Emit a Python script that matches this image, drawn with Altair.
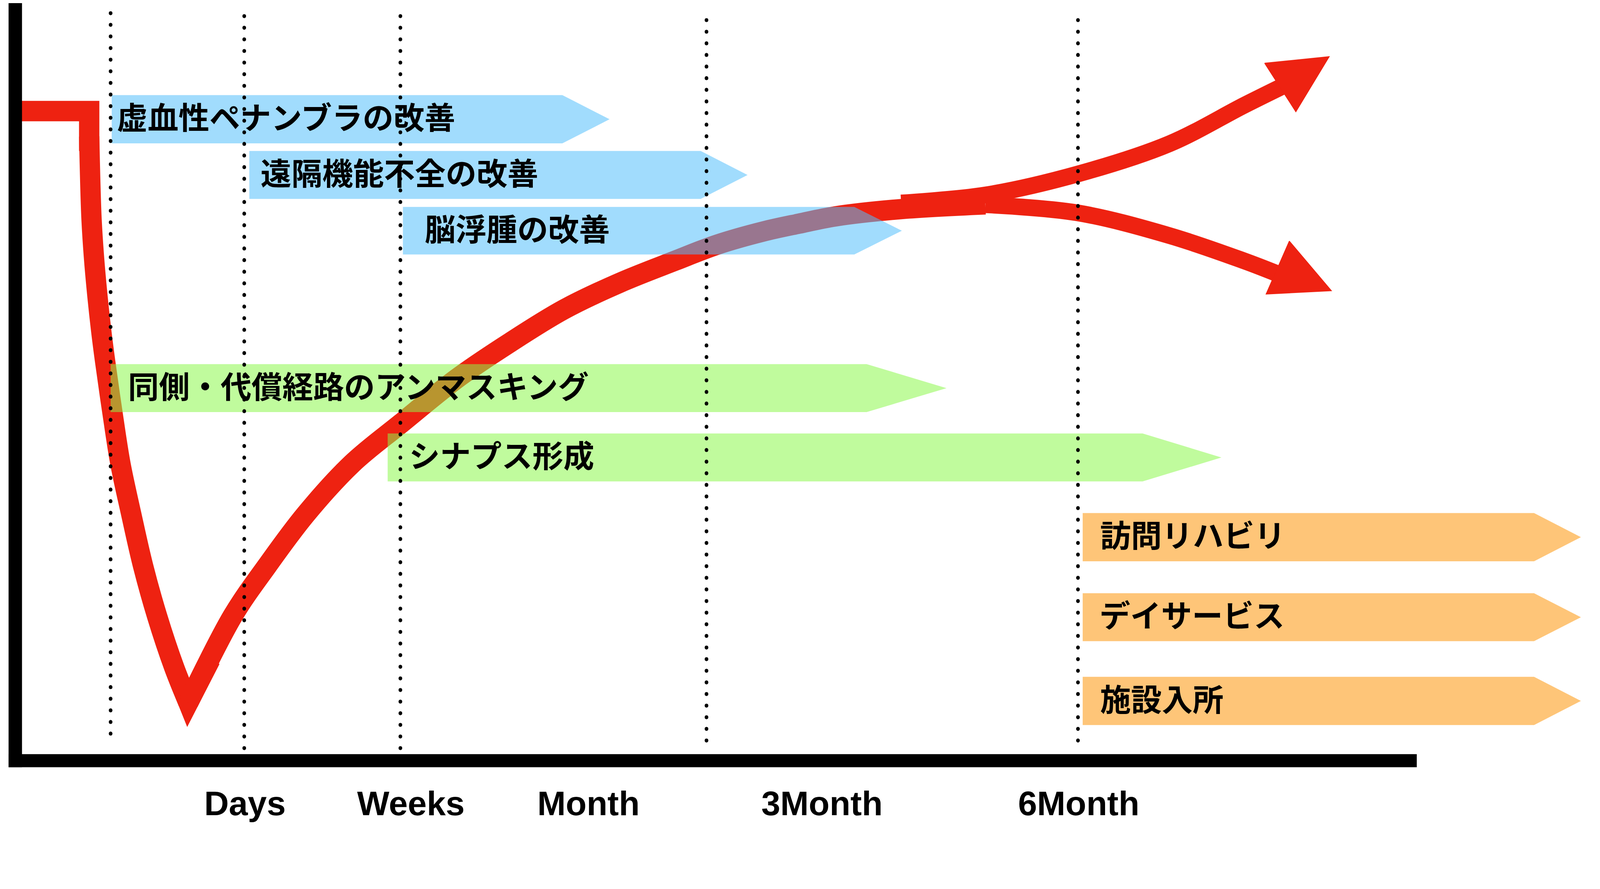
import altair as alt
import pandas as pd

# Data in its own pixel frame
# (x to the right, y downward).  The plot area is mapped onto that frame.
SHIFT = 87                      # vertical offset observed between page and photo
W, H = 4389, 2260 - SHIFT
XDOM = [8, 8 + W]
YDOM = [8 + SHIFT, 8 + SHIFT + H]

# ---------------- data ----------------
# main recovery curve: flat start, sharp corner, drop, V bottom, rise, plateau
corner_x = [41, 245, 245]
corner_y = [310, 310, 420]
drop_x = [245, 248, 251.5, 258, 267, 278, 289, 309, 331, 361, 393, 432, 479, 518]
drop_y = [380, 506, 608, 710, 812, 914, 1000, 1140, 1281, 1421, 1561, 1701, 1842, 1939]
vtip_x = [498.5, 518, 579]
vtip_y = [1890.5, 1939, 1820]
rise_x = [518, 640, 736, 841, 969, 1104, 1257, 1400, 1553, 1706, 1859, 1974, 2100, 2200, 2300, 2481, 2713]
rise_y = [1939, 1701, 1561, 1421, 1281, 1170, 1047, 950, 856, 783, 722, 678, 642, 620, 600, 580, 567]

# the two outcome branches
upper_x = [2481, 2713, 2965, 3220, 3424, 3535]
upper_y = [563, 541, 484, 400, 295, 240]
lower_x = [2713, 2965, 3220, 3424, 3515]
lower_y = [568, 590, 653, 722, 757]

# arrow heads (three corners each, closed)
head_up_x = [3482, 3660, 3568, 3482]
head_up_y = [178, 160, 312, 178]
head_dn_x = [3550, 3666, 3486, 3550]
head_dn_y = [668, 805, 814, 668]

# time markers
period_labels = ["Days", "Weeks", "Month", "3Month", "6Month"]
period_label_x = [674, 1131, 1620, 2263, 2970]
period_label_y = 2249
marker_x = [304, 672, 1102, 1945, 2968]
marker_top = [40, 48, 48, 59, 59]
marker_bottom = [2056, 2066, 2066, 2070, 2070]

# processes / services
bar_labels = ["虚血性ペナンブラの改善", "遠隔機能不全の改善", "脳浮腫の改善",
              "同側・代償経路のアンマスキング", "シナプス形成",
              "訪問リハビリ", "デイサービス", "施設入所"]
bar_group = ["回復機序1", "回復機序1", "回復機序1", "回復機序2", "回復機序2",
             "サービス", "サービス", "サービス"]
bar_start = [307, 686, 1109, 304, 1067, 2981, 2981, 2981]
bar_end = [1548, 1929, 2352, 2386, 3146, 4224, 4224, 4224]
bar_tip = [1678, 2058, 2483, 2606, 3363, 4353, 4353, 4353]
bar_top = [266, 420, 574, 1007, 1198, 1417, 1638, 1868]
bar_bottom = [399, 552, 705, 1139, 1330, 1550, 1770, 2001]
label_start = [321, 717, 1169, 352, 1126, 3029, 3027, 3029]

group_domain = ["回復機序1", "回復機序2", "サービス"]
group_colors = ["#52befb", "#8af849", "#fd9405"]

# axes frame
yaxis_x, yaxis_top, yaxis_bottom = 41.5, 0, 2117
xaxis_y, xaxis_left, xaxis_right = 2099, 23, 3901

RED = "#ee2211"


# ---------------- tables ----------------
def path(name, xs_, ys_):
    return pd.DataFrame({"x": xs_, "y": ys_, "i": range(len(xs_)), "s": name})


sharp = pd.concat([path("corner", corner_x, corner_y), path("vtip", vtip_x, vtip_y)])
smooth = pd.concat([path("drop", drop_x, drop_y), path("rise", rise_x, rise_y)])
branches = pd.concat([path("up", upper_x, upper_y), path("down", lower_x, lower_y)])
heads = pd.concat([path("up", head_up_x, head_up_y), path("down", head_dn_x, head_dn_y)])

rows = []
for k, name in enumerate(bar_labels):
    mid = (bar_top[k] + bar_bottom[k]) / 2
    rows.append({"bar": k, "g": bar_group[k], "x": bar_start[k], "y": bar_top[k], "y2": bar_bottom[k]})
    rows.append({"bar": k, "g": bar_group[k], "x": bar_end[k], "y": bar_top[k], "y2": bar_bottom[k]})
    rows.append({"bar": k, "g": bar_group[k], "x": bar_tip[k], "y": mid, "y2": mid})
bars = pd.DataFrame(rows)
labels = pd.DataFrame({
    "t": bar_labels,
    "x": label_start,
    "y": [(a + b) / 2 + 2 for a, b in zip(bar_top, bar_bottom)],
})
markers = pd.DataFrame({"x": marker_x, "y": marker_top, "y2": marker_bottom})
periods = pd.DataFrame({"t": period_labels, "x": period_label_x, "y": period_label_y})
frame_v = pd.DataFrame({"x": [yaxis_x], "y": [yaxis_top], "y2": [yaxis_bottom]})
frame_h = pd.DataFrame({"x": [xaxis_left], "x2": [xaxis_right], "y": [xaxis_y]})

xs = alt.Scale(domain=XDOM, nice=False, zero=False)
ys = alt.Scale(domain=YDOM, nice=False, zero=False, reverse=True)


def X(f="x"):
    return alt.X(f"{f}:Q", scale=xs, axis=None)


def Y(f="y"):
    return alt.Y(f"{f}:Q", scale=ys, axis=None)


sharp_lines = alt.Chart(sharp).mark_line(
    color=RED, strokeWidth=56, strokeJoin="miter", strokeMiterLimit=10, strokeCap="butt"
).encode(x=X(), y=Y(), detail="s:N", order="i:Q")

smooth_lines = alt.Chart(smooth).mark_line(
    color=RED, strokeWidth=56, strokeCap="butt", interpolate="catmull-rom"
).encode(x=X(), y=Y(), detail="s:N", order="i:Q")

branch_lines = alt.Chart(branches).mark_line(
    color=RED, strokeWidth=46, strokeCap="butt", interpolate="catmull-rom"
).encode(x=X(), y=Y(), detail="s:N", order="i:Q")

arrow_heads = alt.Chart(heads).mark_line(
    color=RED, fill=RED, strokeWidth=2, strokeJoin="miter"
).encode(x=X(), y=Y(), detail="s:N", order="i:Q")

yaxis_rule = alt.Chart(frame_v).mark_rule(color="black", strokeWidth=37).encode(
    x=X(), y=Y(), y2="y2:Q")
xaxis_rule = alt.Chart(frame_h).mark_rule(color="black", strokeWidth=36).encode(
    x=X(), x2="x2:Q", y=Y())

bar_areas = alt.Chart(bars).mark_area(orient="vertical", opacity=0.54, interpolate="linear").encode(
    x=X(), y=Y(), y2="y2:Q", detail="bar:N",
    color=alt.Color("g:N", scale=alt.Scale(domain=group_domain, range=group_colors), legend=None),
)

marker_rules = alt.Chart(markers).mark_rule(
    color="black", strokeWidth=10, strokeDash=[1, 31], strokeCap="round"
).encode(x=X(), y=Y(), y2="y2:Q")

bar_text = alt.Chart(labels).mark_text(
    font="Noto Sans CJK JP", fontWeight="bold", fontSize=85, align="left", baseline="middle",
    color="black"
).encode(x=X(), y=Y(), text="t:N")

period_text = alt.Chart(periods).mark_text(
    font="Liberation Sans", fontWeight="bold", fontSize=94, align="center", baseline="alphabetic",
    color="black"
).encode(x=X(), y=Y(), text="t:N")

chart = alt.layer(
    sharp_lines, smooth_lines, branch_lines, arrow_heads, yaxis_rule, xaxis_rule,
    bar_areas, marker_rules, bar_text, period_text
).properties(
    width=W, height=H, padding=0, autosize="none", background="white"
).configure_view(stroke=None)

chart.save("out.html", embed_options={"renderer": "svg", "actions": False})
